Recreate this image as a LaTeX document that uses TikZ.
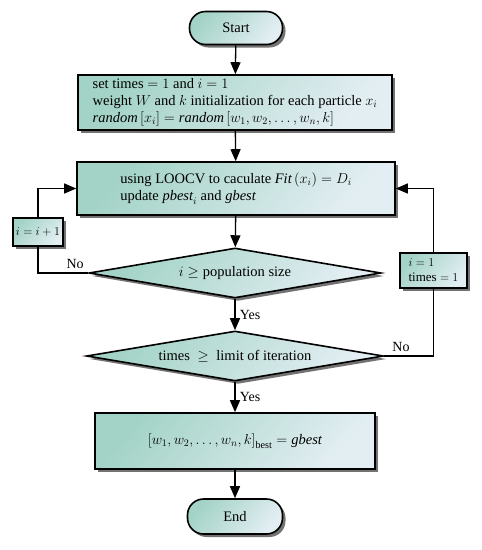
\documentclass[tikz,border=0pt]{standalone}
\usepackage{fontspec}
\setmainfont{Liberation Serif}
\usetikzlibrary{shapes.geometric,shadows,arrows.meta}
\definecolor{verde}{HTML}{A3D3C6}
\definecolor{chiaro}{HTML}{E3EEF3}
\tikzset{
  ombra/.style={drop shadow={shadow xshift=3pt, shadow yshift=-3pt, fill=black!55, opacity=1}},
  colore/.style={shading=axis, top color=verde, bottom color=chiaro, shading angle=50},
  blocco/.style={draw, line width=1.6pt, colore, ombra, inner sep=0pt, align=left,
    font=\fontsize{14.5}{17}\selectfont},
  rombo/.style={diamond, aspect=5.8, draw, line width=1.6pt, colore, ombra, inner sep=0pt,
    font=\fontsize{14.5}{17}\selectfont},
  terminale/.style={blocco, rounded corners=16pt, align=center},
  laterale/.style={blocco, font=\fontsize{13}{15}\selectfont},
  freccia/.style={line width=1.3pt, -{Triangle[length=12pt,width=10pt]}},
  linea/.style={line width=1.3pt},
  etichetta/.style={font=\fontsize{14}{15}\selectfont}
}
\begin{document}
\begin{tikzpicture}[x=1pt, y=-1pt]
  \useasboundingbox (0,0) rectangle (482,550);
  % blocchi principali
  \node[terminale, minimum width=93pt, minimum height=33pt] (start) at (236,28) {Start};
  \node[blocco, minimum width=314pt, minimum height=55pt] (init) at (235,102.5)
    {set times $=1$ and $i=1$\\
     weight $W$ and $k$ initialization for each particle $x_i$\\
     $\textit{random}\left[x_i\right]=\textit{random}\left[w_1,w_2,\ldots,w_n,k\right]$};
  \node[blocco, minimum width=318pt, minimum height=53pt] (eval) at (236,188.5)
    {using LOOCV to caculate $\textit{Fit}\left(x_i\right)=D_i$\\
     update $\textit{pbest}_i$ and $\textit{gbest}$};
  \node[rombo, minimum width=292pt, minimum height=50pt] (pop) at (235,273)
    {$i\ge{}$population size};
  \node[rombo, minimum width=297pt, minimum height=50pt] (iter) at (235,356)
    {times $\;\ge\;$ limit of iteration};
  \node[blocco, align=center, minimum width=280pt, minimum height=56pt] (best) at (235,441)
    {$\left[w_1,w_2,\ldots,w_n,k\right]_{\mathrm{best}}=\textit{gbest}$};
  \node[terminale, minimum width=95pt, minimum height=35pt] (end) at (235,516.5) {End};
  % blocchi laterali
  \node[laterale, align=center, minimum width=50pt, minimum height=28pt] (incr) at (38,232) {$i=i+1$};
  \node[laterale, minimum width=67pt, minimum height=35pt] (reset) at (433.5,270.5)
    {$i=1$\\times $=1$};
  % frecce verticali
  \draw[freccia] (start) -- (init);
  \draw[freccia] (init) -- (eval);
  \draw[freccia] (eval) -- (pop);
  \draw[freccia] (pop) -- node[etichetta, right, xshift=1pt] {Yes} (iter);
  \draw[freccia] (iter) -- node[etichetta, right, xshift=1pt] {Yes} (best);
  \draw[freccia] (best) -- (end);
  % ciclo sinistro
  \draw[linea] (pop.west) -| (incr.south) node[etichetta, pos=0.13, above] {No};
  \draw[freccia] (incr.north) |- (eval.west);
  % ciclo destro
  \draw[linea] (iter.east) -| (reset.south) node[etichetta, pos=0.17, above] {No};
  \draw[freccia] (reset.north) |- (eval.east);
\end{tikzpicture}
\end{document}
